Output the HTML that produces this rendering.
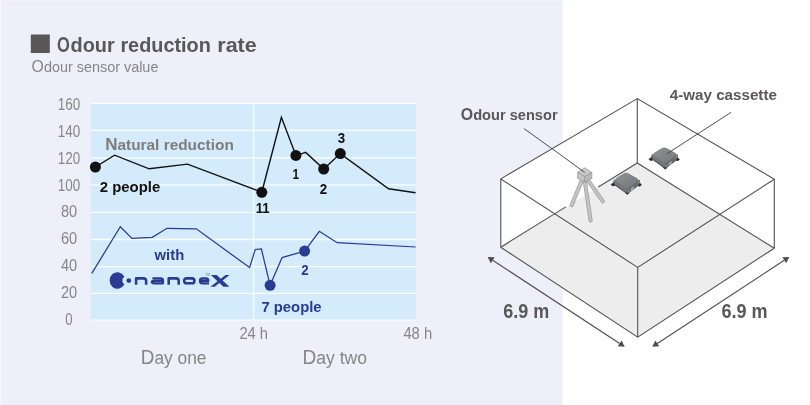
<!DOCTYPE html>
<html lang="en">
<head>
<meta charset="utf-8">
<title>Odour reduction rate</title>
<style>
  html, body { margin: 0; padding: 0; background: #ffffff; }
  body { width: 810px; height: 405px; overflow: hidden; font-family: "Liberation Sans", sans-serif; }
  svg { display: block; will-change: transform; }
  text { font-family: "Liberation Sans", sans-serif; }
  .b { font-weight: bold; }
  .ax { fill: #868686; }
  .blk { fill: #111111; }
  .blu { fill: #293b93; }
  .dk { fill: #595757; }
</style>
</head>
<body>
<svg width="810" height="405" viewBox="0 0 810 405">
  <!-- backgrounds -->
  <rect x="0" y="0" width="810" height="405" fill="#ffffff"/>
  <rect x="0" y="0" width="562.7" height="405" fill="#edeff9"/>
  <rect x="0" y="0" width="562.7" height="1" fill="#ffffff" opacity="0.35"/>
  <rect x="0" y="0" width="0.8" height="405" fill="#ffffff" opacity="0.6"/>

  <!-- ===== title ===== -->
  <rect x="30.8" y="34.5" width="19" height="18.5" fill="#595757"/>
  <g class="b dk" font-size="21">
    <text x="56.9" y="52.2" font-size="22.6" textLength="12.8" lengthAdjust="spacingAndGlyphs">O</text>
    <text x="70.5" y="52.2" textLength="44.2" lengthAdjust="spacingAndGlyphs">dour</text>
    <text x="120.4" y="52.2" textLength="90.4" lengthAdjust="spacingAndGlyphs">reduction</text>
    <text x="217.3" y="52.2" textLength="39.4" lengthAdjust="spacingAndGlyphs">rate</text>
  </g>
  <text class="ax" x="31.6" y="71.7" font-size="14.6" textLength="126.8" lengthAdjust="spacingAndGlyphs"><tspan font-size="16">O</tspan>dour sensor value</text>

  <!-- ===== plot area ===== -->
  <rect x="90.8" y="102.8" width="325.3" height="218" fill="#d3ebfa"/>
  <g stroke="#ffffff" stroke-width="1.3" fill="none" opacity="0.94">
    <line x1="90.8" x2="416.1" y1="103.4" y2="103.4"/>
    <line x1="90.8" x2="416.1" y1="130.4" y2="130.4"/>
    <line x1="90.8" x2="416.1" y1="157.85" y2="157.85"/>
    <line x1="90.8" x2="416.1" y1="184.9" y2="184.9"/>
    <line x1="90.8" x2="416.1" y1="212.4" y2="212.4"/>
    <line x1="90.8" x2="416.1" y1="239.5" y2="239.5"/>
    <line x1="90.8" x2="416.1" y1="266.6" y2="266.6"/>
    <line x1="90.8" x2="416.1" y1="293.45" y2="293.45"/>
    <line x1="90.8" x2="416.1" y1="320.2" y2="320.2"/>
    <line x1="253.55" x2="253.55" y1="102.8" y2="320.8"/>
  </g>

  <!-- y axis labels -->
  <g class="ax" font-size="16" text-anchor="middle">
    <text x="69" y="110.1" textLength="22.4" lengthAdjust="spacingAndGlyphs">160</text>
    <text x="69" y="136.9" textLength="22.4" lengthAdjust="spacingAndGlyphs">140</text>
    <text x="69" y="163.8" textLength="22.4" lengthAdjust="spacingAndGlyphs">120</text>
    <text x="69" y="190.6" textLength="22.4" lengthAdjust="spacingAndGlyphs">100</text>
    <text x="69" y="217.4" textLength="16.2" lengthAdjust="spacingAndGlyphs">80</text>
    <text x="69" y="244.2" textLength="16.2" lengthAdjust="spacingAndGlyphs">60</text>
    <text x="69" y="271.1" textLength="16.2" lengthAdjust="spacingAndGlyphs">40</text>
    <text x="69" y="297.9" textLength="16.2" lengthAdjust="spacingAndGlyphs">20</text>
    <text x="69" y="324.7" textLength="7.3" lengthAdjust="spacingAndGlyphs">0</text>
  </g>

  <!-- x axis labels -->
  <g class="ax" font-size="16">
    <text x="239.4" y="338.7" textLength="28.6" lengthAdjust="spacingAndGlyphs">24 h</text>
    <text x="403.4" y="338.7" textLength="28.8" lengthAdjust="spacingAndGlyphs">48 h</text>
  </g>
  <g class="ax" font-size="18">
    <text x="140.8" y="363.6" textLength="65.6" lengthAdjust="spacingAndGlyphs"><tspan font-size="19.6">D</tspan>ay one</text>
    <text x="302.4" y="363.8" textLength="64.6" lengthAdjust="spacingAndGlyphs"><tspan font-size="19.6">D</tspan>ay two</text>
  </g>

  <!-- ===== black series ===== -->
  <polyline fill="none" stroke="#111111" stroke-width="1.4" stroke-linejoin="miter"
    points="95.4,167 114.6,155.2 149.2,168.8 187.5,164.1 261.8,192.3 281.4,117.2 295.9,155.4 300.5,154.2 305.7,152.4 323.7,169 340.3,153.6 388.6,188.8 415.6,192.8"/>
  <g fill="#111111">
    <circle cx="95.4" cy="167" r="5.5"/>
    <circle cx="261.8" cy="192.3" r="5.5"/>
    <circle cx="295.9" cy="155.4" r="5.5"/>
    <circle cx="323.7" cy="169" r="5.5"/>
    <circle cx="340.3" cy="153.6" r="5.5"/>
  </g>
  <text class="b" fill="#807c7c" x="105.2" y="149.8" font-size="15" textLength="128.6" lengthAdjust="spacingAndGlyphs"><tspan font-size="16.6">N</tspan>atural reduction</text>
  <g class="b blk" font-size="15.4">
    <text x="99.8" y="191.8" textLength="60.4" lengthAdjust="spacingAndGlyphs">2 people</text>
    <text x="255.7" y="213.1" textLength="14" lengthAdjust="spacingAndGlyphs">11</text>
    <text x="292.4" y="179.3" textLength="6.6" lengthAdjust="spacingAndGlyphs">1</text>
    <text x="319.8" y="194.2" textLength="7.4" lengthAdjust="spacingAndGlyphs">2</text>
    <text x="337.8" y="143" textLength="7.4" lengthAdjust="spacingAndGlyphs">3</text>
  </g>

  <!-- ===== blue series ===== -->
  <polyline fill="none" stroke="#293b93" stroke-width="1.25" stroke-linejoin="miter"
    points="91.8,273.4 120.3,226.7 132,238.4 152.3,237.3 167,228.3 196.3,228.8 249.6,267.6 255.2,249.5 261.4,249 270.1,285.3 282.1,257.6 304.6,251.1 319.3,231.3 337.2,242.7 415.6,247"/>
  <g fill="#293b93">
    <circle cx="270.1" cy="285.3" r="5.5"/>
    <circle cx="304.6" cy="251.1" r="5.5"/>
  </g>
  <g class="b blu" font-size="15.4">
    <text x="154.6" y="259.6" textLength="29.6" lengthAdjust="spacingAndGlyphs">with</text>
    <text x="301.2" y="275.4" textLength="7.4" lengthAdjust="spacingAndGlyphs">2</text>
    <text x="261.4" y="312.3" textLength="60.2" lengthAdjust="spacingAndGlyphs">7 people</text>
  </g>

  <!-- nanoe X logo -->
  <g id="logo" fill="#293b93">
    <path d="M124.45,276.7 A7.85,8.3 0 1 0 124.45,284.3 A4.5,4.5 0 0 1 124.45,276.7 Z"/>
    <circle cx="128.8" cy="280.6" r="2.4"/>
  </g>
  <g id="logotext" fill="none" stroke="#293b93" stroke-width="2.55" stroke-linejoin="round">
    <!-- n -->
    <path d="M136.1,284.7 V278.35 H143.4 Q146.1,278.35 146.1,280.8 V284.7"/>
    <!-- a -->
    <path d="M152.4,278.35 H160.4 Q163.0,278.35 163.0,280.4 V283.3 H154.2 Q151.8,283.3 151.8,282.1 Q151.8,280.9 154.2,280.9 H163.0" stroke-width="2.2"/>
    <!-- n -->
    <path d="M168.7,284.7 V278.35 H176.0 Q178.7,278.35 178.7,280.8 V284.7"/>
    <!-- o -->
    <rect x="184.2" y="278.35" width="10.2" height="4.95" rx="2.4" ry="2.4"/>
    <!-- e -->
    <path d="M200.1,280.9 H208.3 V280.5 Q208.3,278.35 205.8,278.35 H202.5 Q200,278.35 200,280.5 V281.2 Q200,283.3 202.5,283.3 H209" stroke-width="2.2"/>
  </g>
  <g fill="#293b93">
    <!-- X -->
    <path d="M210.9,275 L216.6,275 L229.4,286.7 L223.4,286.7 Z"/>
    <path d="M225.6,275 L229.6,275 L214.6,286.7 L210.4,286.7 Z"/>
    <text x="205.8" y="275.6" font-size="2.8" opacity="0.75">TM</text>
  </g>

  <!-- ===== room diagram ===== -->
  <!-- box body (white) -->
  <polygon points="637.3,98.6 500.8,178.9 500.7,247.2 637.7,337.2 774.3,248.2 774.3,179.2" fill="#ffffff"/>
  <!-- floor -->
  <polygon points="637.3,163 500.7,247.2 637.7,337.2 774.3,248.2" fill="#ededed"/>
  <g fill="none" stroke="#505050" stroke-width="1.08" stroke-linejoin="miter">
    <!-- top face -->
    <polygon points="637.3,98.6 500.8,178.9 637.7,267.4 774.3,179.2"/>
    <!-- verticals -->
    <line x1="637.3" y1="98.6" x2="637.3" y2="163"/>
    <line x1="500.8" y1="178.9" x2="500.8" y2="247.2"/>
    <line x1="637.7" y1="267.4" x2="637.7" y2="337.2"/>
    <line x1="774.3" y1="179.2" x2="774.3" y2="248.2"/>
    <!-- floor edges -->
    <polyline points="500.7,247.2 637.7,337.2 774.3,248.2"/>
    <line x1="637.3" y1="163" x2="774.3" y2="248.2"/>
    <line x1="637.3" y1="163" x2="598.3" y2="187"/>
    <line x1="565.8" y1="206.9" x2="500.8" y2="247.2"/>
    <!-- leader lines -->
    <line x1="524" y1="128.6" x2="560" y2="154.4" stroke-width="1"/>
    <line x1="731" y1="112.4" x2="700" y2="132.4" stroke-width="1"/>
  </g>

  <!-- cassette unit (symbol) -->
  <defs>
    <g id="cas">
      <!-- base plate -->
      <path d="M-13.4,11.9 L1.2,22.3 L14.5,12.1 L13,8 L1.2,8 L-12,8 Z" fill="#4a4a4a"/>
      <path d="M-15.6,12.5 L-12.4,10.6 L-11.2,13.8 L-13.2,14.3 Z" fill="#2c2c2c"/>
      <path d="M15.9,12.8 L13.4,11 L12,14.2 L13.8,14.5 Z" fill="#2c2c2c"/>
      <path d="M1.2,22.8 L-1.2,20.8 L3.6,20.8 Z" fill="#2c2c2c"/>
      <!-- body side -->
      <path d="M-12.30,7.60 L-12.30,9.55 Q-12.30,11.50 -10.69,12.68 L-1.06,19.74 Q1.20,21.40 3.40,19.67 L11.93,12.94 Q13.50,11.70 13.50,9.70 L13.50,7.70 L1.20,12.90 Z" fill="#747679"/>
      <path d="M1.20,15.90 L1.20,21.1 Q2.2,20.8 3.40,19.67 L11.93,12.94 Q13.50,11.70 13.50,9.70 L13.50,7.70 Z" fill="#696b6e"/>
      <!-- top face -->
      <path d="M-2.89,1.79 Q0.00,0.00 2.95,1.68 L10.55,6.02 Q13.50,7.70 10.78,9.74 L3.92,14.86 Q1.20,16.90 -1.60,14.97 L-9.50,9.53 Q-12.30,7.60 -9.41,5.81 Z" fill="url(#casg)"/>
      <!-- details -->
      <path d="M4.6,16.6 L7.6,14.3 L7.6,17 L4.6,19.3 Z" fill="#a9abad"/>
      <path d="M2.0,18.4 L3.0,17.7 L3.0,20 L2.0,20.6 Z" fill="#97999b"/>
      <path d="M12.2,9.6 L13.2,8.8 L13.2,11.2 L12.2,12 Z" fill="#a5a58f"/>
    </g>
    <linearGradient id="casg" x1="0" y1="0" x2="1" y2="1">
      <stop offset="0" stop-color="#8e9093"/>
      <stop offset="1" stop-color="#76787b"/>
    </linearGradient>
  </defs>
  <use href="#cas" x="626.1" y="172"/>
  <use href="#cas" x="664" y="146.6"/>
  <!-- redraw cassette leader line on top of cassette -->
  <line x1="700" y1="132.4" x2="666.6" y2="154" stroke="#4d4d4d" stroke-width="1"/>

  <!-- tripod -->
  <g stroke-linecap="round" fill="none">
    <g stroke="#9c9c9c" stroke-width="4">
      <line x1="581.4" y1="181.4" x2="571.6" y2="205.2"/>
      <line x1="588.6" y1="181.2" x2="602.8" y2="201.4"/>
      <line x1="585" y1="182.4" x2="590.6" y2="220.4"/>
    </g>
    <g stroke="#c4c4c4" stroke-width="2.6">
      <line x1="581.4" y1="181.4" x2="571.6" y2="205.2"/>
      <line x1="588.6" y1="181.2" x2="602.8" y2="201.4"/>
      <line x1="585" y1="182.4" x2="590.6" y2="220.4"/>
    </g>
  </g>
  <g stroke="#949494" stroke-width="0.75" stroke-linejoin="round">
    <polygon points="584.75,167.8 591.8,172.6 584.75,176.5 577.7,172.4" fill="#cacaca"/>
    <polygon points="577.7,172.4 584.75,176.5 584.75,182.1 577.7,178.4" fill="#c4c4c4"/>
    <polygon points="591.8,172.6 584.75,176.5 584.75,182.1 591.8,178.4" fill="#bababa"/>
  </g>
  <line x1="560" y1="154.4" x2="584.75" y2="172.5" stroke="#4d4d4d" stroke-width="1"/>

  <!-- labels -->
  <g class="b dk">
    <text x="460.8" y="120.1" font-size="15.1" textLength="96.8" lengthAdjust="spacingAndGlyphs"><tspan font-size="16.4">O</tspan>dour sensor</text>
    <text x="669.8" y="100.2" font-size="15" textLength="107.1" lengthAdjust="spacingAndGlyphs">4-way cassette</text>
    <text x="503.2" y="318" font-size="19.6" textLength="46" lengthAdjust="spacingAndGlyphs">6.9 m</text>
    <text x="721.4" y="318" font-size="19.6" textLength="46.1" lengthAdjust="spacingAndGlyphs">6.9 m</text>
  </g>

  <!-- dimension arrows -->
  <g stroke="#4d4d4d" stroke-width="1.15" fill="none">
    <line x1="492.72" y1="260.29" x2="619.68" y2="343.41"/>
    <line x1="657.32" y1="343.41" x2="784.28" y2="260.29"/>
  </g>
  <g fill="#4d4d4d">
    <polygon points="487.70,257.00 494.64,257.36 490.80,263.21"/>
    <polygon points="624.70,346.70 617.76,346.34 621.60,340.49"/>
    <polygon points="652.30,346.70 655.40,340.49 659.24,346.34"/>
    <polygon points="789.30,257.00 786.20,263.21 782.36,257.36"/>
  </g>
</svg>
</body>
</html>
